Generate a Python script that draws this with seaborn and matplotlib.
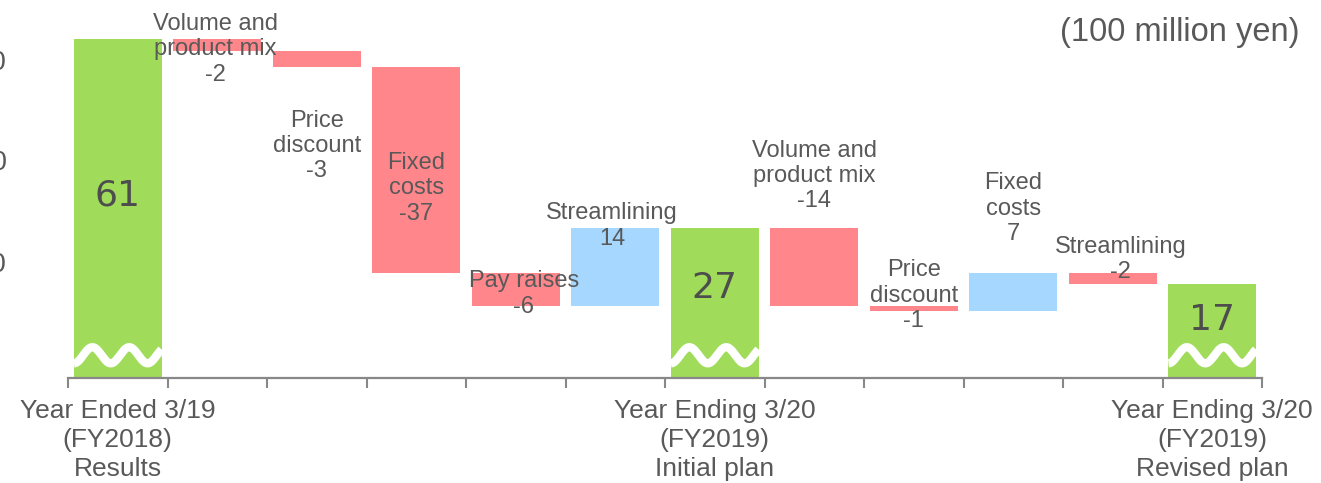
import numpy as np
import pandas as pd
import matplotlib
matplotlib.use("Agg")
import matplotlib.pyplot as plt
import seaborn as sns

# data (100 million yen)
steps = ["FY2018 Results", "Volume and product mix A", "Price discount A", "Fixed costs A",
         "Pay raises", "Streamlining A", "FY2019 Initial plan", "Volume and product mix B",
         "Price discount B", "Fixed costs B", "Streamlining B", "FY2019 Revised plan"]
deltas = [61, -2, -3, -37, -6, 14, 27, -14, -1, 7, -2, 17]
is_total = [True, False, False, False, False, False, True, False, False, False, False, True]
step_labels = ["61", "Volume and\nproduct mix\n-2", "Price\ndiscount\n-3", "Fixed\ncosts\n-37",
               "Pay raises\n-6", "Streamlining\n14", "27", "Volume and\nproduct mix\n-14",
               "Price\ndiscount\n-1", "Fixed\ncosts\n7", "Streamlining\n-2", "17"]
tick_pos = [0, 6, 11]
tick_labels = ["Year Ended 3/19\n(FY2018)\nResults",
               "Year Ending 3/20\n(FY2019)\nInitial plan",
               "Year Ending 3/20\n(FY2019)\nRevised plan"]

# label placement (data units)
label_y = [32.8, 59.2, 41.8, 34.2, 15.1, 27.4, 16.2, 36.4, 14.8, 30.5, 21.3, 10.5]
label_dx = [0, -0.02, 0, 0, 0.08, -0.03, 0, 0, 0, 0, 0.08, 0]

# waterfall bottoms / heights
bottoms, heights, kinds = [], [], []
level = 0
for d, tot in zip(deltas, is_total):
    if tot:
        bottoms.append(0); heights.append(d); kinds.append("total"); level = d
    else:
        new = level + d
        bottoms.append(min(level, new)); heights.append(abs(d))
        kinds.append("up" if d > 0 else "down"); level = new

df = pd.DataFrame({"step": steps, "height": heights, "bottom": bottoms, "kind": kinds})
palette = {"total": "#a0dc5a", "down": "#ff878c", "up": "#a6d8ff"}

grey = "#595959"
fig = plt.figure(figsize=(13.21, 4.83), dpi=100)
ax = fig.add_axes([68 / 1321, 105 / 483, 1194 / 1321, 378 / 483])
sns.barplot(data=df, x="step", y="height", hue="kind", palette=palette, dodge=False,
            saturation=1, width=0.88, legend=False, ax=ax, linewidth=0)

# float the bars: patches come grouped by hue, so match them by x position
for p in ax.patches:
    i = int(round(p.get_x() + p.get_width() / 2))
    p.set_y(bottoms[i])

ax.set_xlim(-0.5, 11.5)
ax.set_ylim(0, 68.1)

# break marks on total bars
for i, tot in enumerate(is_total):
    if tot:
        xs = np.linspace(i - 0.44, i + 0.44, 200)
        ys = 4.1 - 1.45 * np.cos(2 * np.pi * (xs - xs[0]) / 0.37)
        ax.plot(xs, ys, color="white", lw=6, solid_capstyle="butt", zorder=5)

# labels
for i, (txt, y, dx, tot) in enumerate(zip(step_labels, label_y, label_dx, is_total)):
    if tot:
        ax.text(i, y, txt, ha="center", va="center", fontsize=26, color="#4d4d4d",
                family="DejaVu Sans", zorder=6)
    else:
        ax.text(i + dx, y, txt, ha="center", va="center", fontsize=17, color=grey,
                family="Liberation Sans", linespacing=1.2, zorder=6)

fig.text(1300 / 1321, 1 - 33 / 483, "(100 million yen)", ha="right", va="center",
         fontsize=23.5, color=grey, family="Liberation Sans")

# axes styling
for s in ["top", "right", "left"]:
    ax.spines[s].set_visible(False)
ax.spines["bottom"].set_color("#888888")
ax.spines["bottom"].set_linewidth(1.6)
ax.set_xticks(np.arange(-0.5, 12, 1))
ax.set_xticklabels([])
ax.tick_params(axis="x", which="major", length=7, width=1.5, color="#888888")
ax.set_xticks(tick_pos, minor=True)
ax.set_xticklabels(tick_labels, minor=True, fontsize=19, color=grey,
                   family="Liberation Sans", linespacing=1.28)
ax.tick_params(axis="x", which="minor", length=0, pad=15)
ax.set_yticks([57.3, 39.3, 20.9])
ax.set_yticklabels(["60", "40", "20"], fontsize=20, color=grey, family="Liberation Sans")
ax.tick_params(axis="y", length=0, pad=44)
ax.set_xlabel("")
ax.set_ylabel("")

fig.savefig("out.png", dpi=100)
